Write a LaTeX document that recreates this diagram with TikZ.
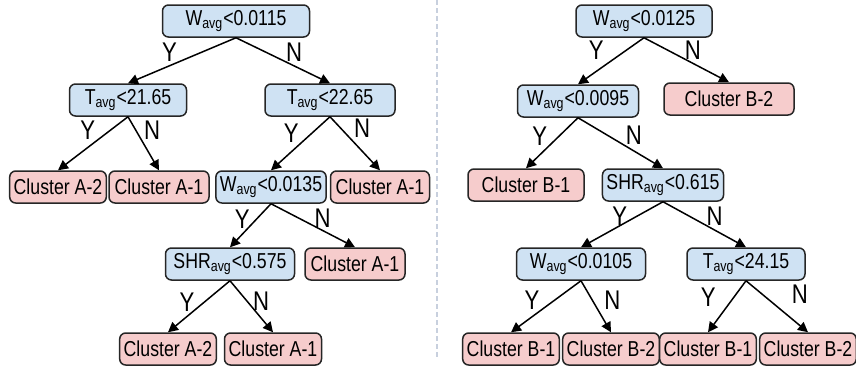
\documentclass[tikz,border=0pt]{standalone}
\usepackage{fontspec}
\setmainfont{Liberation Sans}[FakeStretch=0.82]
\usepackage{xcolor}
\definecolor{condblue}{RGB}{207,226,243}
\definecolor{leafpink}{RGB}{246,204,204}
\definecolor{sepgray}{RGB}{200,208,222}
\usetikzlibrary{arrows.meta,positioning}
\tikzset{
  >={Triangle[length=5pt,width=5pt]},
  cond/.style={rectangle,draw=black!85,line width=0.75pt,rounded corners=3pt,fill=condblue,minimum height=16pt,inner xsep=2pt,inner ysep=1pt,font={\fontsize{10.8}{12}\selectfont}},
  leaf/.style={cond,fill=leafpink,minimum width=48pt},
  edge/.style={->,line width=0.75pt},
  lab/.style={font={\fontsize{13.5}{15}\selectfont},inner sep=0pt},
  sep/.style={draw=sepgray,line width=0.6pt,dash pattern=on 2.5pt off 1.5pt}
}

\begin{document}
\begin{tikzpicture}[x=0.5pt,y=-0.5pt]
  \useasboundingbox (0,0) rectangle (856,371);

  % Tree A
  \node[cond,minimum width=73.5pt] (w1) at (236,21) {W\textsubscript{avg}<0.0115};
  \node[cond,minimum width=58.5pt] (t1) at (128,100) {T\textsubscript{avg}<21.65};
  \node[cond,minimum width=65pt] (t2) at (330,100) {T\textsubscript{avg}<22.65};
  \node[leaf,minimum width=46.5pt] (a1) at (58,187) {Cluster A-2};
  \node[leaf,minimum width=50pt] (a2) at (159,187) {Cluster A-1};
  \node[cond,minimum width=52.5pt] (w2) at (271,187) {W\textsubscript{avg}<0.0135};
  \node[leaf,minimum width=49.5pt] (a3) at (380,187) {Cluster A-1};
  \node[cond,minimum width=64.5pt] (s1) at (230,264) {SHR\textsubscript{avg}<0.575};
  \node[leaf,minimum width=50pt] (a4) at (355,264) {Cluster A-1};
  \node[leaf] (a5) at (168,349) {Cluster A-2};
  \node[leaf,minimum width=48.5pt] (a6) at (273,349) {Cluster A-1};

  \draw[edge] (w1.south) -- node[lab,pos=.31,xshift=-16.5pt]{Y} (t1.north);
  \draw[edge] (w1.south) -- node[lab,pos=.31,xshift=14.5pt]{N} (t2.north);
  \draw[edge] (t1.south) -- node[lab,pos=.26,xshift=-11pt]{Y} (a1.north);
  \draw[edge] (t1.south) -- node[lab,pos=.26,xshift=8pt]{N} (a2.north);
  \draw[edge] (t2.south) -- node[lab,pos=.30,xshift=-10.5pt]{Y} (w2.north);
  \draw[edge] (t2.south) -- node[lab,pos=.22,xshift=10.5pt]{N} (a3.north);
  \draw[edge] (w2.south) -- node[lab,pos=.36,xshift=-7pt]{Y} (s1.north);
  \draw[edge] (w2.south) -- node[lab,pos=.33,xshift=12pt]{N} (a4.north);
  \draw[edge] (s1.south) -- node[lab,pos=.42,xshift=-8.5pt]{Y} (a5.north);
  \draw[edge] (s1.south) -- node[lab,pos=.40,xshift=7pt]{N} (a6.north);

  % divider
  \draw[sep] (437,0) -- (437,360);

  % Tree B
  \node[cond,minimum width=68pt] (w3) at (644,21) {W\textsubscript{avg}<0.0125};
  \node[cond,minimum width=60.5pt] (w4) at (578,101) {W\textsubscript{avg}<0.0095};
  \node[leaf,minimum width=65pt] (b1) at (729,99) {Cluster B-2};
  \node[leaf,minimum width=58pt] (b2) at (526,185) {Cluster B-1};
  \node[cond,minimum width=60.5pt] (s2) at (663,185) {SHR\textsubscript{avg}<0.615};
  \node[cond,minimum width=64.5pt] (w5) at (581,264) {W\textsubscript{avg}<0.0105};
  \node[cond,minimum width=59pt] (t3) at (746,264) {T\textsubscript{avg}<24.15};
  \node[leaf] (b3) at (511,349) {Cluster B-1};
  \node[leaf,minimum width=47.5pt] (b4) at (611,349) {Cluster B-2};
  \node[leaf,minimum width=46.5pt] (b5) at (708,349) {Cluster B-1};
  \node[leaf,minimum width=46pt] (b6) at (808,349) {Cluster B-2};

  \draw[edge] (w3.south) -- node[lab,pos=.27,xshift=-15pt]{Y} (w4.north);
  \draw[edge] (w3.south) -- node[lab,pos=.27,xshift=13pt]{N} (b1.north);
  \draw[edge] (w4.south) -- node[lab,pos=.37,xshift=-9.5pt]{Y} (b2.north);
  \draw[edge] (w4.south) -- node[lab,pos=.35,xshift=13pt]{N} (s2.north);
  \draw[edge] (s2.south) -- node[lab,pos=.32,xshift=-8.5pt]{Y} (w5.north);
  \draw[edge] (s2.south) -- node[lab,pos=.32,xshift=12.5pt]{N} (t3.north);
  \draw[edge] (w5.south) -- node[lab,pos=.37,xshift=-11.5pt]{Y} (b3.north);
  \draw[edge] (w5.south) -- node[lab,pos=.38,xshift=10pt]{N} (b4.north);
  \draw[edge] (t3.south) -- node[lab,pos=.31,xshift=-13pt]{Y} (b5.north);
  \draw[edge] (t3.south) -- node[lab,pos=.27,xshift=18.5pt]{N} (b6.north);
\end{tikzpicture}
\end{document}
